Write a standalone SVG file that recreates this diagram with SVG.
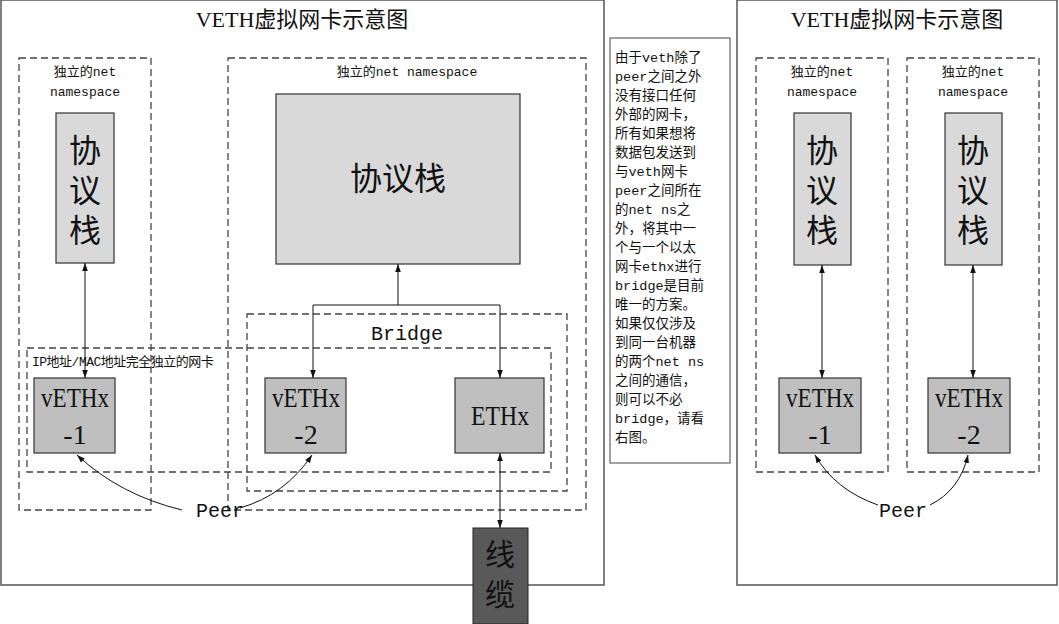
<svg xmlns="http://www.w3.org/2000/svg" width="1059" height="624" viewBox="0 0 1059 624">
<style>
.frame{fill:#fff;stroke:#555;stroke-width:1.5}
.dash{fill:none;stroke:#444;stroke-width:1.3;stroke-dasharray:7,4}
.box{fill:#d9d9d9;stroke:#333;stroke-width:1.2}
.nic{fill:#bfbfbf;stroke:#333;stroke-width:1.2}
.t{font-family:"Liberation Serif","Noto Sans CJK SC",serif;fill:#111;text-anchor:middle}
.m{font-family:"Liberation Mono","Noto Sans CJK SC",monospace;fill:#111}
.ln{fill:none;stroke:#111;stroke-width:1}
</style>
<defs>
<marker id="a" viewBox="0 0 10 10" refX="10" refY="5" markerWidth="8" markerHeight="8" orient="auto-start-reverse"><path d="M0,1.5 L10,5 L0,8.5 Z" fill="#111"/></marker>
</defs>
<rect width="1059" height="624" fill="#fff"/>
<g id="left-frame"><rect class="frame" x="1" y="0" width="603" height="585"/>
<text class="t" x="302" y="27" font-size="22">VETH虚拟网卡示意图</text></g>
<g id="ns1"><rect class="dash" x="19" y="58" width="132" height="452"/>
<text class="m" x="85" y="76" font-size="13" text-anchor="middle">独立的net</text>
<text class="m" x="85" y="96" font-size="13" text-anchor="middle">namespace</text></g>
<g id="ns2"><rect class="dash" x="228" y="58" width="358" height="452"/>
<text class="m" x="407" y="76" font-size="13" text-anchor="middle">独立的net namespace</text></g>
<g id="stack1"><rect class="box" x="56" y="113" width="58" height="150"/>
<text class="t" x="85" y="162" font-size="32">协</text><text class="t" x="85" y="202" font-size="32">议</text><text class="t" x="85" y="242" font-size="32">栈</text></g>
<g id="stack2"><rect class="box" x="276" y="94" width="244" height="170"/>
<text class="t" x="398" y="190" font-size="32">协议栈</text></g>
<g id="bridge"><rect class="dash" x="247" y="314" width="320" height="177"/>
<text class="m" x="407" y="340" font-size="20" text-anchor="middle">Bridge</text></g>
<g id="ipmac"><rect class="dash" x="27" y="348" width="524" height="124"/>
<text class="m" x="32" y="366" font-size="13" letter-spacing="-0.5">IP地址/MAC地址完全独立的网卡</text></g>
<g id="veth1"><rect class="nic" x="34" y="378" width="81" height="75"/>
<text class="t" x="75" y="407" font-size="28" textLength="68" lengthAdjust="spacingAndGlyphs">vETHx</text><text class="t" x="75" y="444" font-size="28">-1</text></g>
<g id="veth2"><rect class="nic" x="265" y="378" width="81" height="75"/>
<text class="t" x="306" y="407" font-size="28" textLength="68" lengthAdjust="spacingAndGlyphs">vETHx</text><text class="t" x="306" y="444" font-size="28">-2</text></g>
<g id="ethx"><rect class="nic" x="455" y="378" width="89" height="75"/>
<text class="t" x="500" y="425" font-size="28" textLength="58" lengthAdjust="spacingAndGlyphs">ETHx</text></g>
<g id="cable"><rect x="473" y="528" width="55" height="96" fill="#595959" stroke="#222"/>
<text class="t" x="500" y="565" font-size="30">线</text><text class="t" x="500" y="605" font-size="30">缆</text></g>
<g id="note"><rect x="610" y="38" width="120" height="425" fill="#fff" stroke="#444"/>
<text class="m" font-size="13.5">
<tspan x="615" y="62">由于veth除了</tspan><tspan x="615" y="81">peer之间之外</tspan><tspan x="615" y="100">没有接口任何</tspan><tspan x="615" y="119">外部的网卡，</tspan><tspan x="615" y="138">所有如果想将</tspan><tspan x="615" y="157">数据包发送到</tspan><tspan x="615" y="176">与veth网卡</tspan><tspan x="615" y="195">peer之间所在</tspan><tspan x="615" y="214">的net ns之</tspan><tspan x="615" y="233">外，将其中一</tspan><tspan x="615" y="252">个与一个以太</tspan><tspan x="615" y="271">网卡ethx进行</tspan><tspan x="615" y="290">bridge是目前</tspan><tspan x="615" y="309">唯一的方案。</tspan><tspan x="615" y="328">如果仅仅涉及</tspan><tspan x="615" y="347">到同一台机器</tspan><tspan x="615" y="366">的两个net ns</tspan><tspan x="615" y="385">之间的通信，</tspan><tspan x="615" y="404">则可以不必</tspan><tspan x="615" y="423">bridge，请看</tspan><tspan x="615" y="442">右图。</tspan>
</text></g>
<g id="right-frame"><rect class="frame" x="737" y="0" width="320" height="585"/>
<text class="t" x="897" y="27" font-size="22">VETH虚拟网卡示意图</text></g>
<g id="rns1"><rect class="dash" x="756" y="58" width="132" height="414"/>
<text class="m" x="822" y="76" font-size="13" text-anchor="middle">独立的net</text>
<text class="m" x="822" y="96" font-size="13" text-anchor="middle">namespace</text></g>
<g id="rns2"><rect class="dash" x="907" y="58" width="132" height="414"/>
<text class="m" x="973" y="76" font-size="13" text-anchor="middle">独立的net</text>
<text class="m" x="973" y="96" font-size="13" text-anchor="middle">namespace</text></g>
<g id="rstack1"><rect class="box" x="794" y="113" width="57" height="152"/>
<text class="t" x="822" y="162" font-size="32">协</text><text class="t" x="822" y="202" font-size="32">议</text><text class="t" x="822" y="242" font-size="32">栈</text></g>
<g id="rstack2"><rect class="box" x="945" y="113" width="57" height="152"/>
<text class="t" x="973" y="162" font-size="32">协</text><text class="t" x="973" y="202" font-size="32">议</text><text class="t" x="973" y="242" font-size="32">栈</text></g>
<g id="rveth1"><rect class="nic" x="779" y="378" width="82" height="75"/>
<text class="t" x="820" y="407" font-size="28" textLength="68" lengthAdjust="spacingAndGlyphs">vETHx</text><text class="t" x="820" y="444" font-size="28">-1</text></g>
<g id="rveth2"><rect class="nic" x="928" y="378" width="82" height="75"/>
<text class="t" x="969" y="407" font-size="28" textLength="68" lengthAdjust="spacingAndGlyphs">vETHx</text><text class="t" x="969" y="444" font-size="28">-2</text></g>
<g id="labels">
<text class="m" x="220" y="517" font-size="20" text-anchor="middle">Peer</text>
<text class="m" x="903" y="517" font-size="20" text-anchor="middle">Peer</text>
</g>
<g id="connectors">
<line class="ln" x1="85" y1="263" x2="85" y2="378" marker-start="url(#a)" marker-end="url(#a)"/>
<line class="ln" x1="398" y1="305" x2="398" y2="264" marker-end="url(#a)"/>
<polyline class="ln" points="313,378 313,305 500,305 500,378" marker-start="url(#a)" marker-end="url(#a)"/>
<line class="ln" x1="500" y1="453" x2="500" y2="528" marker-start="url(#a)" marker-end="url(#a)"/>
<path class="ln" d="M182,510 Q120,495 77,455" marker-end="url(#a)"/>
<path class="ln" d="M240,508 Q285,495 312,455" marker-end="url(#a)"/>
<line class="ln" x1="822" y1="265" x2="822" y2="378" marker-start="url(#a)" marker-end="url(#a)"/>
<line class="ln" x1="973" y1="265" x2="973" y2="378" marker-start="url(#a)" marker-end="url(#a)"/>
<path class="ln" d="M878,505 Q835,490 815,455" marker-end="url(#a)"/>
<path class="ln" d="M930,505 Q960,490 968,455" marker-end="url(#a)"/>
</g>
</svg>
